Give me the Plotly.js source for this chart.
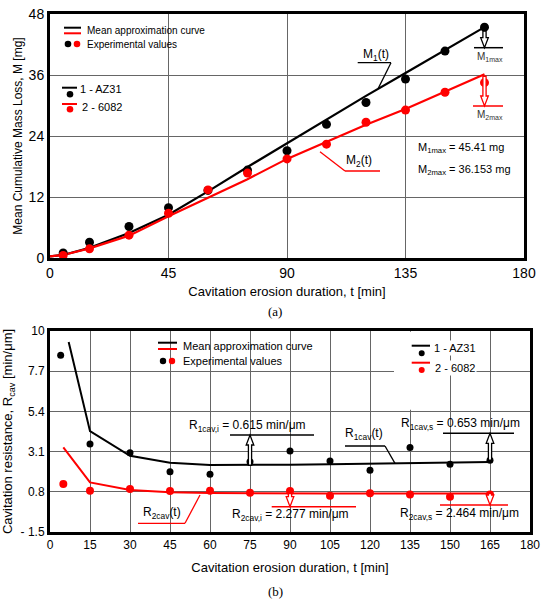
<!DOCTYPE html>
<html>
<head>
<meta charset="utf-8">
<script src="https://cdn.plot.ly/plotly-3.0.1.min.js"></script>
<style>html,body{margin:0;padding:0;background:#fff;}#chart{width:550px;height:602px;}</style>
</head>
<body>
<div id="chart"></div>
<script>
// ---------- Data (a) cumulative mass loss ----------
const tExpA   = [5, 15, 30, 45, 60, 75, 90, 105, 120, 135, 150, 165];
const m1Exp   = [1.0, 3.1, 6.2, 9.9, 13.3, 17.3, 21.1, 26.3, 30.6, 35.2, 40.7, 45.41];
const m2Exp   = [0.5, 1.8, 4.5, 8.8, 13.4, 16.7, 19.5, 22.4, 26.7, 29.1, 32.6, 34.5];
const tCurveA = [0, 5, 15, 30, 45, 60, 75, 90, 105, 120, 135, 150, 165];
const m1Curve = [0.3, 0.6, 2.0, 4.9, 8.5, 13.1, 17.9, 22.6, 27.3, 31.9, 36.4, 40.9, 45.41];
const m2Curve = [0.3, 0.6, 1.9, 4.4, 8.2, 11.8, 15.5, 19.5, 22.9, 26.2, 29.3, 32.7, 36.153];
const xTicksA = [0, 45, 90, 135, 180];
const yTicksA = [0, 12, 24, 36, 48];

// ---------- Data (b) cavitation resistance ----------
const tExpB1  = [4, 15, 30, 45, 60, 75, 90, 105, 120, 135, 150, 165];
const r1Exp   = [8.61, 3.53, 3.03, 1.94, 1.80, 2.52, 3.13, 2.56, 2.04, 3.34, 2.37, 2.61];
const tExpB2  = [5, 15, 30, 45, 60, 75, 90, 105, 120, 135, 150, 165];
const r2Exp   = [1.24, 0.86, 0.96, 0.84, 0.86, 0.75, 0.84, 0.57, 0.71, 0.65, 0.52, 0.65];
const tCurveB1 = [7, 15, 30, 45, 60, 75, 90, 105, 120, 135, 150, 165];
const r1Curve  = [9.37, 4.27, 2.86, 2.46, 2.33, 2.32, 2.35, 2.38, 2.40, 2.42, 2.44, 2.50];
const tCurveB2 = [5, 15, 30, 45, 60, 75, 90, 105, 120, 135, 150, 165];
const r2Curve  = [3.34, 1.34, 0.90, 0.77, 0.73, 0.71, 0.70, 0.70, 0.70, 0.70, 0.70, 0.70];
const xTicksB = [0, 15, 30, 45, 60, 75, 90, 105, 120, 135, 150, 165, 180];
const yTicksB = [-1.5, 0.8, 3.1, 5.4, 7.7, 10];
const yTickTextB = ['- 1.5', '0.8', '3.1', '5.4', '7.7', '10'];

// ---------- Layout geometry (pixels) ----------
const W = 550, H = 602;
const A = {l: 50, r: 524, t: 14, b: 258, xmax: 180, ymin: 0, ymax: 48};
const B = {l: 50, r: 530, t: 331, b: 532, xmax: 180, ymin: -1.5, ymax: 10};
const X = px => px / W;
const Y = py => 1 - py / H;
const axPx = (G, t) => G.l + t / G.xmax * (G.r - G.l);
const ayPx = (G, v) => G.b - (v - G.ymin) / (G.ymax - G.ymin) * (G.b - G.t);

const FONT = 'Liberation Sans, Arial, Helvetica, sans-serif';
const SERIF = 'Liberation Serif, Times New Roman, serif';
const RED = '#ff0000';

const shapes = [];
const annotations = [];
function seg(pts, color, width) {
  for (let i = 0; i < pts.length - 1; i++) {
    shapes.push({type: 'line', xref: 'paper', yref: 'paper',
      x0: X(pts[i][0]), y0: Y(pts[i][1]), x1: X(pts[i+1][0]), y1: Y(pts[i+1][1]),
      line: {color: color, width: width || 1.5}});
  }
}
function dot(cx, cy, r, color) {
  shapes.push({type: 'circle', xref: 'paper', yref: 'paper', xsizemode: 'pixel', ysizemode: 'pixel',
    xanchor: X(cx), yanchor: Y(cy), x0: -r, x1: r, y0: -r, y1: r,
    fillcolor: color, line: {width: 0}});
}
function hollowArrow(cx, y0, y1, color) {
  const s = y1 > y0 ? 1 : -1, hl = 10, hw = 3.8, sw = 1.6;
  const pts = [[cx - sw, y0], [cx - sw, y1 - s * hl], [cx - hw, y1 - s * hl], [cx, y1],
               [cx + hw, y1 - s * hl], [cx + sw, y1 - s * hl], [cx + sw, y0]];
  const d = 'M' + pts.map(p => X(p[0]).toFixed(5) + ',' + Y(p[1]).toFixed(5)).join(' L') + ' Z';
  shapes.push({type: 'path', xref: 'paper', yref: 'paper', path: d,
    fillcolor: '#ffffff', line: {color: color, width: 1.3}});
}
function text(str, px, py, size, anchor, color, family, bg) {
  const a = {xref: 'paper', yref: 'paper', x: X(px), y: Y(py), text: str,
    showarrow: false, xanchor: anchor || 'left', yanchor: 'middle',
    font: {family: family || FONT, size: size, color: color || '#000'}};
  if (bg) a.bgcolor = bg;
  annotations.push(a);
}

// ---------- Chart (a) decorations ----------
seg([[64, 27.7], [81, 27.7]], '#000', 2);
seg([[64, 33.3], [81, 33.3]], RED, 2);
text('Mean approximation curve', 85, 31, 10);
dot(68, 44, 3.3, '#000'); dot(77, 44, 3.3, RED);
text('Experimental values', 85, 44, 10);
seg([[62, 87.7], [77, 87.7]], '#000', 2); dot(70, 94.3, 3.3, '#000');
text('1 - AZ31', 78, 89, 11);
seg([[62, 104], [77, 104]], RED, 2); dot(70, 109.3, 3.3, RED);
text('2 - 6082', 80, 107.3, 11);

const lastA = tCurveA.length - 1;
const m1xPx = axPx(A, tCurveA[lastA]);
hollowArrow(m1xPx, ayPx(A, m1Curve[lastA]) + 4, 47.7, '#000');
seg([[474, 47.7], [503, 47.7]], '#000', 1.5);
text('M<sub>1max</sub>', 490, 57, 10, 'center', '#333');
hollowArrow(m1xPx, ayPx(A, m2Curve[lastA]) + 2, 106, RED);
seg([[473, 106], [503, 106]], RED, 1.5);
text('M<sub>2max</sub>', 490, 115, 10, 'center', '#333');

seg([[357.7, 62.7], [391, 62.7], [378.3, 88.3]], '#000', 1.3);
text('M<sub>1</sub>(t)', 376, 55, 12, 'center');
seg([[320, 151.7], [345, 171], [380, 171]], RED, 1.3);
text('M<sub>2</sub>(t)', 359, 161, 12, 'center');
text('M<sub>1max</sub> = 45.41 mg', 416, 148, 11);
text('M<sub>2max</sub> = 36.153 mg', 416, 170, 11);

// ---------- Chart (b) decorations ----------
shapes.push({type: 'rect', xref: 'x2', yref: 'y2', layer: 'between',
  x0: 129, x1: 148, y0: 5.5, y1: 9.95, fillcolor: '#ffffff', line: {width: 0}});
seg([[158, 342.7], [177, 342.7]], '#000', 2);
seg([[158, 349], [177, 349]], RED, 2);
text('Mean approximation curve', 181, 346, 11);
dot(163, 361, 3.2, '#000'); dot(172, 361, 3.2, RED);
text('Experimental values', 181, 361, 11);
seg([[411.7, 345.7], [430, 345.7]], '#000', 2); dot(421.7, 353.3, 3, '#000');
text('1 - AZ31', 431.5, 347.7, 11, 'left', '#000', FONT, '#ffffff');
seg([[411.7, 362.7], [430, 362.7]], RED, 2); dot(421.7, 370, 3, RED);
text('2 - 6082', 433, 367.7, 11, 'left', '#000', FONT, '#ffffff');

// R1cav,i at t = 75 ; R1cav,s at t = 165
const i75 = tCurveB1.indexOf(75), i165 = tCurveB1.indexOf(165);
hollowArrow(axPx(B, 75), ayPx(B, r1Curve[i75]), 435, '#000');
seg([[230, 435], [314, 435]], '#000', 1.6);
text('R<sub>1cav,i</sub> = 0.615 min/μm', 186.5, 426, 12);
hollowArrow(axPx(B, 165), ayPx(B, r1Curve[i165]) - 2, 433.3, '#000');
seg([[443, 433.3], [514, 433.3]], '#000', 1.6);
text('R<sub>1cav,s</sub> = 0.653 min/μm', 399, 424, 12);
seg([[345, 446], [385, 446], [395, 463.3]], '#000', 1.3);
text('R<sub>1cav</sub>(t)', 343, 434, 12);

const j90 = tCurveB2.indexOf(90), j165 = tCurveB2.indexOf(165);
hollowArrow(axPx(B, 90), ayPx(B, r2Curve[j90]), 506.7, RED);
seg([[271.7, 506.7], [356, 506.7]], RED, 1.6);
text('R<sub>2cav,i</sub> = 2.277 min/μm', 230, 515, 12);
hollowArrow(axPx(B, 165), ayPx(B, r2Curve[j165]), 505, RED);
seg([[440, 505], [508, 505]], RED, 1.6);
text('R<sub>2cav,s</sub> = 2.464 min/μm', 397.5, 514, 12);
seg([[138, 523.3], [185, 523.3], [200, 495]], RED, 1.3);
text('R<sub>2cav</sub>(t)', 141, 513, 12);

// panel labels
text('(a)', 275, 311, 13, 'center', '#000', SERIF);
text('(b)', 275, 591, 13, 'center', '#000', SERIF);

// ---------- Traces ----------
const traces = [
  {x: tCurveA, y: m1Curve, mode: 'lines', line: {color: '#000', width: 2.2}, xaxis: 'x', yaxis: 'y', name: '1 - AZ31 curve'},
  {x: tCurveA, y: m2Curve, mode: 'lines', line: {color: RED, width: 2.2}, xaxis: 'x', yaxis: 'y', name: '2 - 6082 curve'},
  {x: tExpA, y: m1Exp, mode: 'markers', marker: {color: '#000', size: 9}, xaxis: 'x', yaxis: 'y', name: '1 - AZ31'},
  {x: tExpA, y: m2Exp, mode: 'markers', marker: {color: RED, size: 9}, xaxis: 'x', yaxis: 'y', name: '2 - 6082'},
  {x: tCurveB1, y: r1Curve, mode: 'lines', line: {color: '#000', width: 2}, xaxis: 'x2', yaxis: 'y2', name: 'R1cav(t)'},
  {x: tCurveB2, y: r2Curve, mode: 'lines', line: {color: RED, width: 2}, xaxis: 'x2', yaxis: 'y2', name: 'R2cav(t)'},
  {x: tExpB1, y: r1Exp, mode: 'markers', marker: {color: '#000', size: 7}, xaxis: 'x2', yaxis: 'y2', name: '1 - AZ31'},
  {x: tExpB2, y: r2Exp, mode: 'markers', marker: {color: RED, size: 8}, xaxis: 'x2', yaxis: 'y2', name: '2 - 6082'}
];

const axBase = {showgrid: true, gridcolor: '#666', gridwidth: 1, showline: true, linecolor: '#000',
  linewidth: 3, mirror: true, ticks: '', zeroline: false, automargin: false, fixedrange: true};

const layout = {
  width: W, height: H, showlegend: false,
  margin: {l: 0, r: 0, t: 0, b: 0},
  paper_bgcolor: '#fff', plot_bgcolor: '#fff',
  font: {family: FONT, color: '#000', size: 12},
  xaxis: Object.assign({}, axBase, {domain: [X(A.l), X(A.r)], range: [0, A.xmax], tickvals: xTicksA,
    anchor: 'y', tickfont: {size: 14},
    title: {text: 'Cavitation erosion duration, t [min]', font: {size: 13}, standoff: 8}}),
  yaxis: Object.assign({}, axBase, {domain: [Y(A.b), Y(A.t)], range: [A.ymin, A.ymax], tickvals: yTicksA,
    anchor: 'x', tickfont: {size: 14},
    title: {text: 'Mean Cumulative Mass Loss, M [mg]', font: {size: 12}, standoff: 4}}),
  xaxis2: Object.assign({}, axBase, {domain: [X(B.l), X(B.r)], range: [0, B.xmax], tickvals: xTicksB,
    anchor: 'y2', tickfont: {size: 12},
    title: {text: 'Cavitation erosion duration, t [min]', font: {size: 13}, standoff: 12}}),
  yaxis2: Object.assign({}, axBase, {domain: [Y(B.b), Y(B.t)], range: [B.ymin, B.ymax], tickvals: yTicksB,
    ticktext: yTickTextB, anchor: 'x2', tickfont: {size: 12},
    title: {text: 'Cavitation resistance, R<sub>cav</sub> [min/μm]', font: {size: 13}, standoff: 6}}),
  shapes: shapes,
  annotations: annotations
};

Plotly.newPlot('chart', traces, layout, {displayModeBar: false});
</script>
</body>
</html>
